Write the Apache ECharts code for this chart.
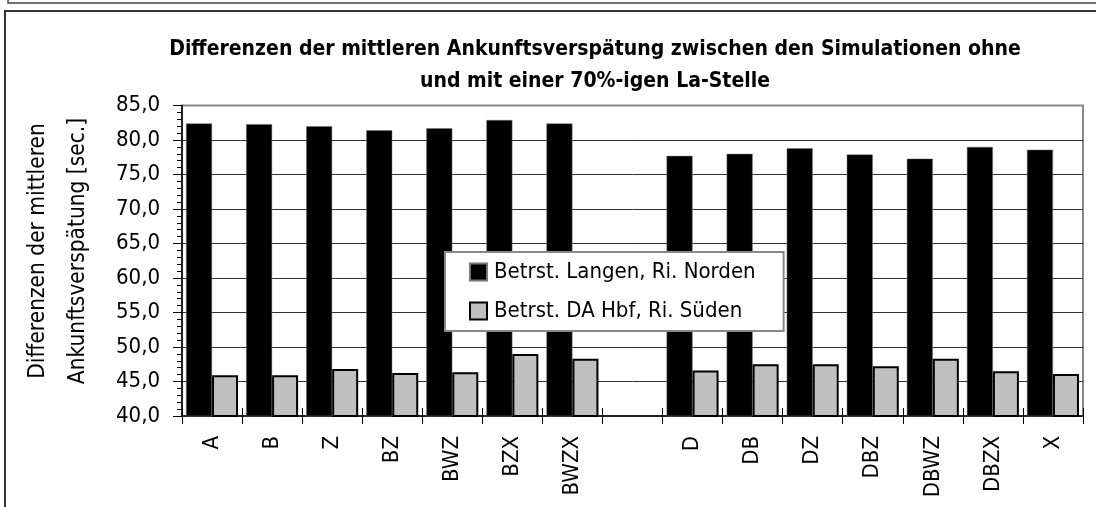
<!DOCTYPE html>
<html>
<head>
<meta charset="utf-8">
<script src="https://cdn.jsdelivr.net/npm/echarts@6/dist/echarts.min.js"></script>
<style>
  html, body { margin: 0; padding: 0; background: #fff; }
  #chart { width: 1096px; height: 507px; }
</style>
</head>
<body>
<div id="chart"></div>
<script>
// Scenario names along the x axis (empty slot separates the two groups)
const categories = ['A', 'B', 'Z', 'BZ', 'BWZ', 'BZX', 'BWZX', '', 'D', 'DB', 'DZ', 'DBZ', 'DBWZ', 'DBZX', 'X'];

// Mean arrival delay differences in seconds
const langenNorden = [82.4, 82.3, 82.0, 81.4, 81.7, 82.9, 82.4, null, 77.7, 78.0, 78.8, 77.9, 77.3, 79.0, 78.6];
const daHbfSueden  = [45.9, 45.9, 46.8, 46.25, 46.35, 49.0, 48.3, null, 46.6, 47.5, 47.5, 47.2, 48.3, 46.5, 46.1];

const seriesNames = ['Betrst. Langen, Ri. Norden', 'Betrst. DA Hbf, Ri. Süden'];
const titleLines = [
  'Differenzen der mittleren Ankunftsverspätung zwischen den Simulationen ohne',
  'und mit einer 70%-igen La-Stelle'
];
const yAxisTitle = ['Differenzen der mittleren', 'Ankunftsverspätung [sec.]'];

const FONT = "'Liberation Sans Narrow', 'Arial Narrow', 'DejaVu Sans Condensed', 'Roboto Condensed', sans-serif";

const chart = echarts.init(document.getElementById('chart'), null, { renderer: 'canvas' });

chart.setOption({
  animation: false,
  backgroundColor: '#fff',
  textStyle: { fontFamily: FONT, color: '#000' },
  title: {
    text: titleLines.join('\n'),
    left: 590,
    top: 29,
    textAlign: 'center',
    textStyle: { fontFamily: FONT, fontWeight: 'bold', fontSize: 21, lineHeight: 32, color: '#000' }
  },
  legend: {
    orient: 'vertical',
    left: 445,
    top: 252,
    itemWidth: 17,
    itemHeight: 17,
    itemGap: 17,
    padding: [9, 28, 9, 24],
    backgroundColor: '#fff',
    borderColor: '#888',
    borderWidth: 2,
    borderRadius: 0,
    textStyle: { fontFamily: FONT, fontSize: 22, color: '#000', padding: [0, 0, 0, 2] },
    data: seriesNames.map(n => ({ name: n, icon: 'rect' }))
  },
  grid: {
    left: 182,
    right: 13,
    top: 105.5,
    bottom: 91,
    show: true,
    borderColor: '#888',
    borderWidth: 2,
    backgroundColor: 'transparent'
  },
  xAxis: [{
    type: 'category',
    data: categories,
    axisLine: { lineStyle: { color: '#000', width: 1.5 } },
    axisTick: { show: true, length: 8, alignWithLabel: false, lineStyle: { color: '#000' } },
    axisLabel: { rotate: 90, margin: 20, fontSize: 22, fontFamily: FONT, color: '#000' }
  }, {
    // inner half of the crossing category ticks
    type: 'category',
    data: categories,
    position: 'bottom',
    axisLine: { show: false },
    axisTick: { show: true, inside: true, length: 8, lineStyle: { color: '#000' } },
    axisLabel: { show: false }
  }],
  yAxis: {
    type: 'value',
    min: 40,
    max: 85,
    interval: 5,
    axisLine: { show: true, lineStyle: { color: '#000', width: 1.5 } },
    axisTick: { show: true, length: 9, lineStyle: { color: '#000' } },
    minorTick: { show: true, splitNumber: 5, length: 5, lineStyle: { color: '#000' } },
    splitLine: { show: true, showMinLine: false, showMaxLine: false, lineStyle: { color: '#333', width: 1 } },
    axisLabel: {
      margin: 22,
      fontSize: 22,
      fontFamily: FONT,
      color: '#000',
      formatter: v => v.toFixed(1).replace('.', ',')
    }
  },
  graphic: [
    // frame lines around the chart block
    { type: 'polyline', shape: { points: [[8, 0], [8, 3], [1096, 3]] }, style: { stroke: '#444', lineWidth: 1.5, fill: null } },
    { type: 'polyline', shape: { points: [[5, 507], [5, 11], [1096, 11]] }, style: { stroke: '#333', lineWidth: 2, fill: null } },
    {
      type: 'text',
      x: 58,
      y: 251,
      rotation: Math.PI / 2,
      style: {
        text: yAxisTitle.join('\n'),
        font: '22.5px ' + FONT,
        lineHeight: 40,
        fill: '#000',
        align: 'center',
        verticalAlign: 'middle'
      }
    }
  ],
  series: [{
    name: seriesNames[0],
    type: 'bar',
    data: langenNorden,
    barWidth: 26,
    barGap: '0%',
    itemStyle: { color: '#000', borderColor: '#777', borderWidth: 0.5 }
  }, {
    name: seriesNames[1],
    type: 'bar',
    data: daHbfSueden,
    barWidth: 26,
    barGap: '0%',
    itemStyle: { color: '#c0c0c0', borderColor: '#000', borderWidth: 2 }
  }]
});
</script>
</body>
</html>
